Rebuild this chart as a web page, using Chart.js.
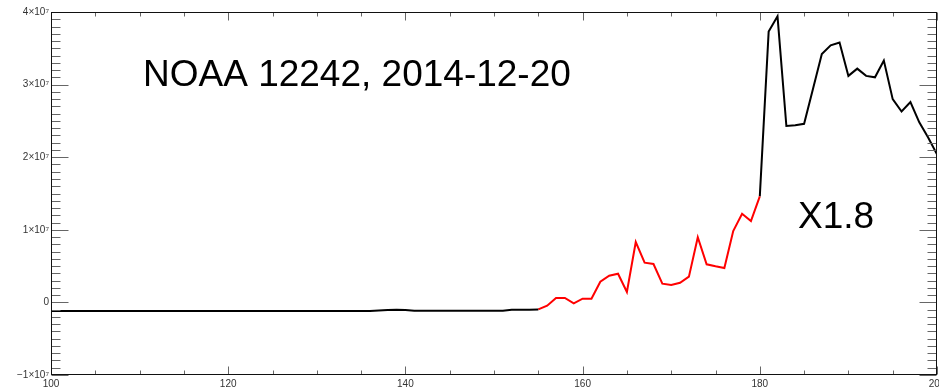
<!DOCTYPE html>
<html>
<head>
<meta charset="utf-8">
<script src="https://cdn.jsdelivr.net/npm/chart.js@4/dist/chart.umd.min.js"></script>
<style>
  html, body { margin: 0; padding: 0; background: #fff; }
  canvas { display: block; }
</style>
</head>
<body>
<canvas id="c" width="939" height="389"></canvas>
<script>
// Time axis (arbitrary frame units) and flux for each part of the curve
const preFlareX = [100,101,102,103,104,105,106,107,108,109,110,111,112,113,114,115,116,117,118,119,
                   120,121,122,123,124,125,126,127,128,129,130,131,132,133,134,135,136,137,138,139,
                   140,141,142,143,144,145,146,147,148,149,150,151,152,153,154,155];
const preFlareY = [-1.2e6,-1.2e6,-1.2e6,-1.2e6,-1.2e6,-1.2e6,-1.2e6,-1.2e6,-1.2e6,-1.2e6,
                   -1.2e6,-1.2e6,-1.2e6,-1.2e6,-1.2e6,-1.2e6,-1.2e6,-1.2e6,-1.2e6,-1.2e6,
                   -1.2e6,-1.2e6,-1.2e6,-1.2e6,-1.2e6,-1.2e6,-1.2e6,-1.2e6,-1.2e6,-1.2e6,
                   -1.2e6,-1.2e6,-1.2e6,-1.2e6,-1.2e6,-1.2e6,-1.2e6,-1.12e6,-1.05e6,-1.02e6,
                   -1.05e6,-1.15e6,-1.15e6,-1.15e6,-1.15e6,-1.15e6,-1.15e6,-1.15e6,-1.15e6,-1.15e6,
                   -1.15e6,-1.15e6,-1.0e6,-1.0e6,-1.0e6,-0.97e6];

const riseX = [155,156,157,158,159,160,161,162,163,164,165,166,167,168,169,170,171,172,173,174,
               175,176,177,178,179,180];
const riseY = [-0.97e6,-0.45e6,0.61e6,0.61e6,-0.12e6,0.51e6,0.51e6,2.85e6,3.68e6,3.95e6,
               1.43e6,8.32e6,5.47e6,5.29e6,2.58e6,2.40e6,2.71e6,3.54e6,8.97e6,5.25e6,
               4.97e6,4.74e6,9.83e6,12.2e6,11.2e6,14.6e6];

const flareX = [180,181,182,183,184,185,186,187,188,189,190,191,192,193,194,195,196,197,198,199,200];
const flareY = [14.6e6,37.3e6,39.4e6,24.3e6,24.4e6,24.6e6,29.4e6,34.2e6,35.4e6,35.8e6,
                31.2e6,32.2e6,31.2e6,31.0e6,33.3e6,28.0e6,26.3e6,27.6e6,24.8e6,22.7e6,20.4e6];

const yTickValues = [-1e7, 0, 1e7, 2e7, 3e7, 4e7];
const xTickValues = [100, 120, 140, 160, 180, 200];

const titleText = 'NOAA 12242, 2014-12-20';
const classText = 'X1.8';

function toPoints(xs, ys) {
  return xs.map((x, i) => ({ x: x, y: ys[i] }));
}

const SUP = { '0':'⁰','1':'¹','2':'²','3':'³','4':'⁴','5':'⁵','6':'⁶','7':'⁷','8':'⁸','9':'⁹' };
function sciLabel(v) {
  if (v === 0) return '0';
  const exp = Math.floor(Math.log10(Math.abs(v)));
  const mant = Math.round(v / Math.pow(10, exp));
  const sup = String(exp).split('').map(c => SUP[c]).join('');
  return (mant < 0 ? '−' + (-mant) : mant) + '×10' + sup;
}

// Inward major/minor ticks on all four sides, the plot frame, and the text labels
const framePlugin = {
  id: 'frame',
  afterDraw(chart) {
    const ctx = chart.ctx;
    const a = chart.chartArea;
    const xs = chart.scales.x, ys = chart.scales.y;
    const L = Math.round(a.left) + 0.5, R = Math.round(a.right) - 0.5;
    const T = Math.round(a.top) + 0.5, B = Math.round(a.bottom) - 0.5;
    ctx.save();
    ctx.lineWidth = 1;
    ctx.strokeStyle = '#666';
    ctx.beginPath();
    for (let v = 100; v <= 200; v += 5) {
      const px = Math.round(xs.getPixelForValue(v)) + 0.5;
      const len = (v % 20 === 0) ? 8 : 4;
      ctx.moveTo(px, B); ctx.lineTo(px, B - len);
      ctx.moveTo(px, T); ctx.lineTo(px, T + len);
    }
    for (let k = -10; k <= 40; k++) {
      const py = Math.round(ys.getPixelForValue(k * 1e6)) + 0.5;
      const len = (k % 10 === 0) ? 17 : 9;
      ctx.moveTo(L, py); ctx.lineTo(L + len, py);
      ctx.moveTo(R, py); ctx.lineTo(R - len, py);
    }
    ctx.stroke();
    ctx.strokeStyle = '#111';
    ctx.strokeRect(L, T, R - L, B - T);

    ctx.fillStyle = '#000';
    ctx.font = '37px "Liberation Sans", Arial, sans-serif';
    ctx.textBaseline = 'alphabetic';
    ctx.textAlign = 'left';
    ctx.fillText(titleText, 143, 86);
    ctx.fillText(classText, 798, 228);
    ctx.restore();
  }
};

new Chart(document.getElementById('c'), {
  type: 'line',
  data: {
    datasets: [
      { data: toPoints(preFlareX, preFlareY), borderColor: '#000', borderWidth: 2 },
      { data: toPoints(riseX, riseY), borderColor: '#ff0000', borderWidth: 2 },
      { data: toPoints(flareX, flareY), borderColor: '#000', borderWidth: 2 }
    ]
  },
  options: {
    responsive: false,
    devicePixelRatio: 1,
    animation: false,
    layout: { padding: { top: 12, right: 2, left: 0, bottom: 0 } },
    elements: { point: { radius: 0 }, line: { tension: 0 } },
    plugins: { legend: { display: false }, tooltip: { enabled: false } },
    scales: {
      x: {
        type: 'linear', min: 100, max: 200,
        grid: { display: false, drawTicks: false },
        border: { display: false },
        afterBuildTicks(s) { s.ticks = xTickValues.map(v => ({ value: v })); },
        ticks: {
          autoSkip: false, maxRotation: 0, padding: 3,
          color: '#333', font: { family: '"Liberation Sans", Arial, sans-serif', size: 10 },
          callback: v => String(v)
        },
        afterFit(s) {
          s.height = 14;
          s.paddingLeft = 0; s.paddingRight = 0; s.paddingTop = 0; s.paddingBottom = 0;
        }
      },
      y: {
        type: 'linear', min: -1e7, max: 4e7,
        grid: { display: false, drawTicks: false },
        border: { display: false },
        afterBuildTicks(s) { s.ticks = yTickValues.map(v => ({ value: v })); },
        ticks: {
          autoSkip: false, padding: 2,
          color: '#333', font: { family: '"Liberation Sans", Arial, sans-serif', size: 10 },
          callback: v => sciLabel(v)
        },
        afterFit(s) {
          s.width = 51;
          s.paddingLeft = 0; s.paddingRight = 0; s.paddingTop = 0; s.paddingBottom = 0;
        }
      }
    }
  },
  plugins: [framePlugin]
});
</script>
</body>
</html>
